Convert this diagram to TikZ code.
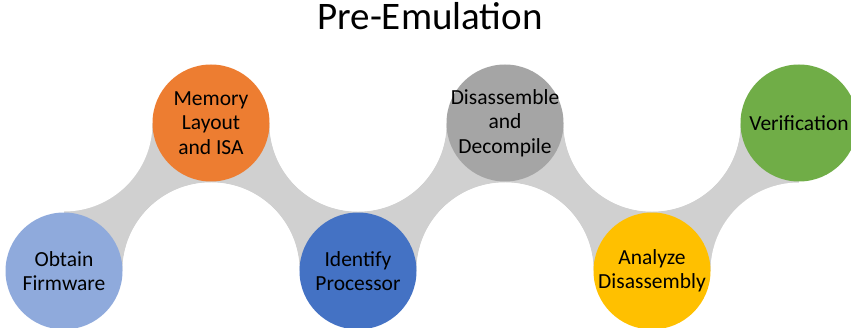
\documentclass[tikz,border=0pt]{standalone}
\usepackage{fontspec}
\setmainfont{Carlito}
\usetikzlibrary{backgrounds}

\definecolor{firmblue}{HTML}{8FAADC}
\definecolor{memorange}{HTML}{ED7D31}
\definecolor{procblue}{HTML}{4472C4}
\definecolor{disgray}{HTML}{A5A5A5}
\definecolor{analyellow}{HTML}{FFC000}
\definecolor{vergreen}{HTML}{70AD47}
\definecolor{bandgray}{HTML}{D0D0D0}

\begin{document}
\begin{tikzpicture}[x=1pt,y=1pt,
  stage/.style={circle,minimum size=117pt,inner sep=-14pt,align=center,
    font=\fontsize{21.5}{24.5}\selectfont},
  band/.style={fill=bandgray},
  hole/.style={fill=white}]

\useasboundingbox (0,0) rectangle (851,327);

\node[anchor=base,font=\fontsize{39}{42}\selectfont] (title) at (430,297) {Pre-Emulation};

\node[stage,fill=firmblue] (s1) at (64,56) {Obtain\\Firmware};
\node[stage,fill=memorange] (s2) at (211,204) {Memory\\Layout\\and ISA};
\node[stage,fill=procblue] (s3) at (358,56) {Identify\\Processor};
\node[stage,fill=disgray] (s4) at (505,204) {Disassemble\\and\\Decompile};
\node[stage,fill=analyellow] (s5) at (652,56) {Analyze\\Disassembly};
\node[stage,fill=vergreen] (s6) at (799,204) {Verification};

%bands behind the circles
\begin{scope}[on background layer]
\foreach \a/\b in {s1/s2,s2/s3,s3/s4,s4/s5,s5/s6}
  \fill[band] (\a.center) rectangle (\b.center);
%cut the curved edges
\foreach \a/\b in {s1/s2,s2/s3,s3/s4,s4/s5,s5/s6}{
  \fill[hole] (\a |- \b) circle (88.5);
  \fill[hole] (\b |- \a) circle (88.5);
}
\end{scope}

\end{tikzpicture}
\end{document}
